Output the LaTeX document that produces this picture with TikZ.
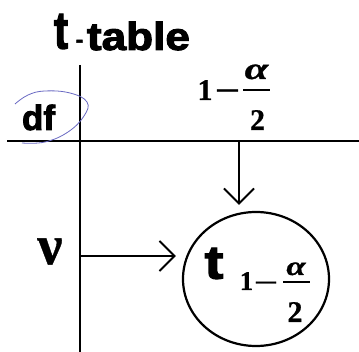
\documentclass[tikz,border=0pt]{standalone}
\usepackage{fontspec}
\setmainfont{Liberation Serif}[BoldFeatures={FakeBold=0.6},BoldItalicFeatures={FakeBold=0.6}]
\newfontfamily\arialfont{Liberation Sans}[BoldFeatures={FakeBold=2.5}]
\usetikzlibrary{arrows.meta,shapes.geometric}
\definecolor{penblue}{RGB}{105,105,195}
\begin{document}
\begin{tikzpicture}[x=1pt,y=-1pt,line width=2.2pt,
  txt/.style={inner sep=0pt,outer sep=0pt},
  barb/.style={-{Straight Barb[length=15pt,width=30pt,line width=2pt]}},
  fracbar/.style={line width=1.3pt},
  ring/.style={draw,ellipse,line width=2.2pt,minimum width=146pt,minimum height=134pt,inner sep=0pt}]
\useasboundingbox (0,0) rectangle (359,352);
\fill[white] (0,0) rectangle (359,352);
% title
\node[txt] (tbig) at (61,31.5) {\arialfont\bfseries\fontsize{53}{53}\selectfont\scalebox{0.8}[1]{t}};
\node[txt,anchor=base] (hyph) at (79.5,47) {\arialfont\bfseries\fontsize{22}{22}\selectfont -};
\node[txt,anchor=base west] (table) at (87,50) {\arialfont\bfseries\fontsize{39}{39}\selectfont\scalebox{1.13}[1]{table}};
% table lines
\coordinate (vtop) at (80,65);
\coordinate (vbot) at (80,352);
\coordinate (hleft) at (7,141);
\coordinate (hright) at (359,141);
\draw (vtop) -- (vbot);
\draw (hleft) -- (hright);
% df
\node[txt,anchor=base west] (df) at (22,130) {\arialfont\bfseries\fontsize{35}{35}\selectfont df};
\draw[penblue,line width=0.8pt] plot[smooth,tension=0.7] coordinates {(15,104) (28,95) (45,91) (70,93) (87,102) (84,116) (68,132) (45,142) (22,143)};
% column heading 1 - alpha/2
\node[txt,anchor=base] (one) at (205,100) {\bfseries\fontsize{30}{30}\selectfont 1};
\node[txt,anchor=base] (minus) at (227.5,100.5) {\bfseries\fontsize{30}{30}\selectfont\scalebox{1.5}[1]{−}};
\node[txt,anchor=base] (alpha) at (256.5,79) {\bfseries\itshape\fontsize{31}{31}\selectfont\scalebox{1.38}[1]{α}};
\draw[fracbar] (243,90) -- (270,90);
\node[txt,anchor=base] (two) at (257.5,130) {\bfseries\fontsize{30}{30}\selectfont 2};
% nu
\node[txt] (nu) at (50,251.5) {\bfseries\fontsize{56}{56}\selectfont ν};
% result
\node[ring] (res) at (256,279) {};
\node[txt] (tres) at (214,263.5) {\arialfont\bfseries\fontsize{47}{47}\selectfont\scalebox{1.2}[1]{t}};
\node[txt,anchor=base] (sone) at (246.5,290) {\bfseries\fontsize{27}{27}\selectfont 1};
\node[txt,anchor=base] (sminus) at (266,291.5) {\bfseries\fontsize{27}{27}\selectfont\scalebox{1.6}[1]{−}};
\node[txt,anchor=base] (salpha) at (296,275) {\bfseries\itshape\fontsize{27}{27}\selectfont\scalebox{1.3}[1]{α}};
\draw[fracbar] (283,282) -- (310,282);
\node[txt,anchor=base] (stwo) at (295,322) {\bfseries\fontsize{30}{30}\selectfont 2};
% arrows
\coordinate (colstart) at (239,141);
\coordinate (rowstart) at (80,256);
\draw[barb,shorten >=6pt] (colstart) -- (colstart |- res.north);
\draw[barb,shorten >=6pt] (rowstart) -- (res.west |- rowstart);
\end{tikzpicture}
\end{document}
